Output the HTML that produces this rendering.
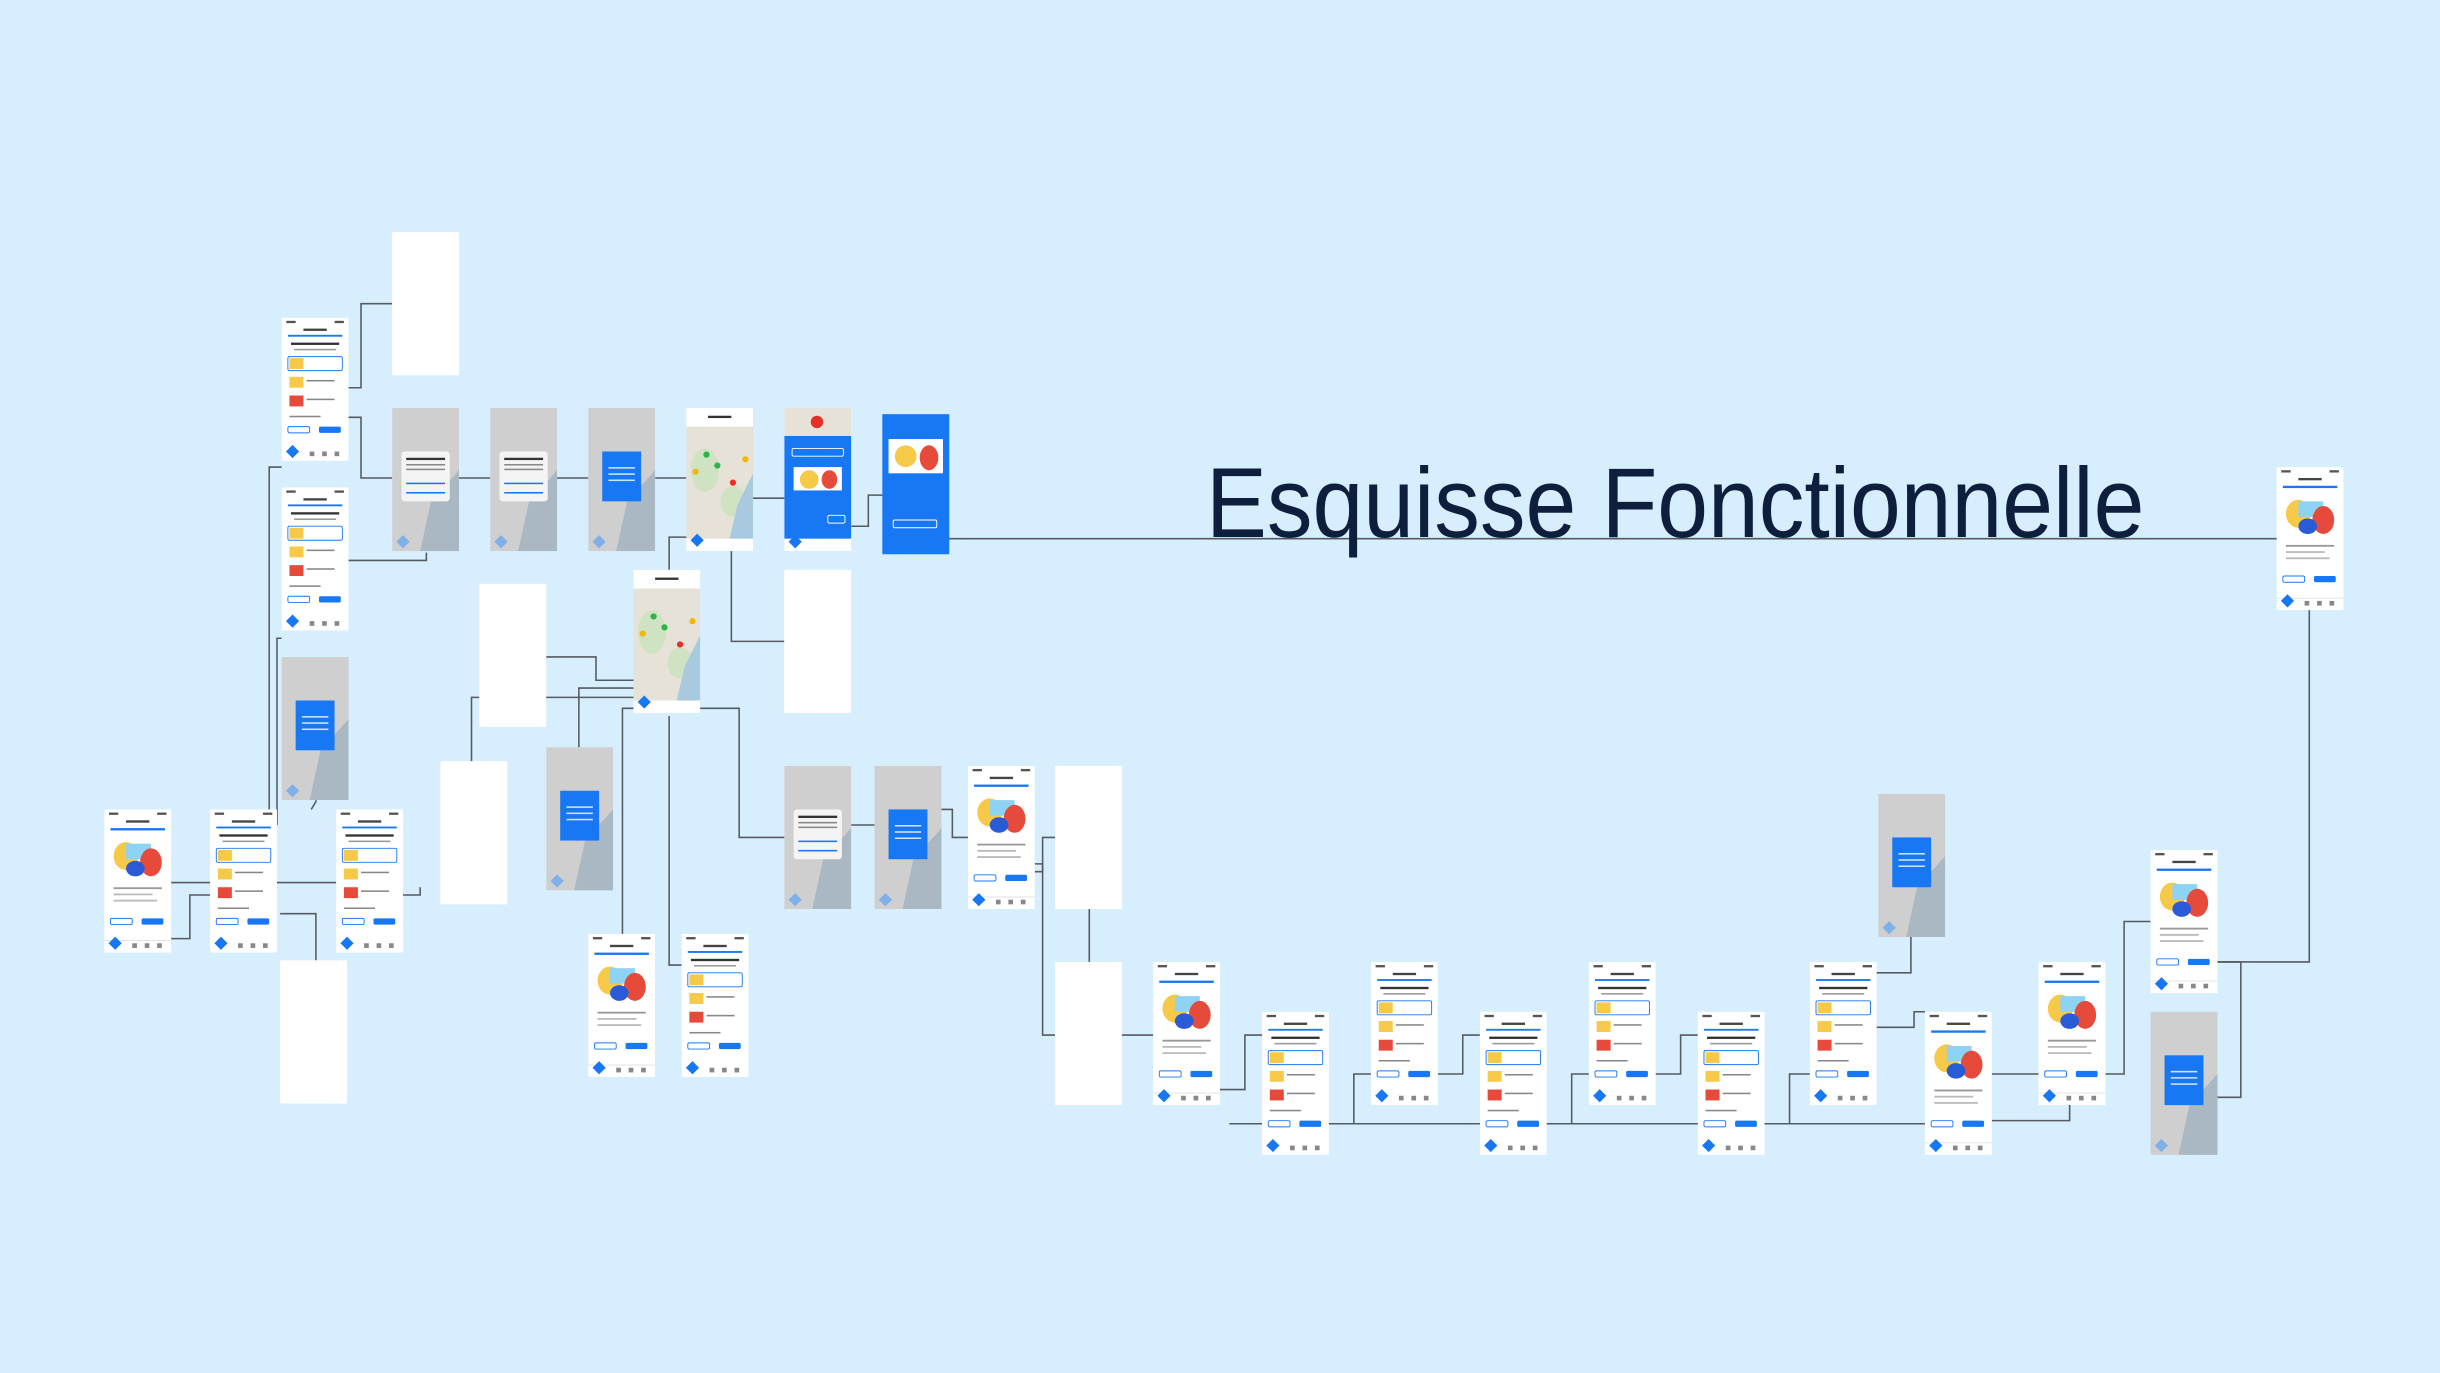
<!DOCTYPE html>
<html><head><meta charset="utf-8"><style>
html,body{margin:0;padding:0;background:#d6eefe;}
svg{display:block}
</style></head><body>
<svg width="2440" height="1373" viewBox="0 0 1568 882" xmlns="http://www.w3.org/2000/svg">
<defs>
<symbol id="w" viewBox="0 0 43 92" width="43" height="92">
<rect width="43" height="92" fill="#fff"/>
<rect x="3" y="2" width="6" height="1.5" fill="#555"/><rect x="34" y="2" width="6" height="1.5" fill="#555"/>
<rect x="14" y="7" width="15" height="1.5" fill="#444"/>
<rect x="4" y="12" width="35" height="1.5" fill="#1877f2"/>
<ellipse cx="14" cy="30" rx="8" ry="9" fill="#f7c948"/>
<rect x="14" y="22" width="16" height="10" fill="#8fd3f4"/>
<ellipse cx="30" cy="34" rx="7" ry="9" fill="#e64a3b"/>
<ellipse cx="20" cy="38" rx="6" ry="5" fill="#2a5bd7"/>
<rect x="6" y="50" width="31" height="1.2" fill="#999"/><rect x="6" y="54" width="25" height="1.2" fill="#bbb"/><rect x="6" y="58" width="28" height="1.2" fill="#bbb"/>
<rect x="4" y="70" width="14" height="4" rx="1" fill="#fff" stroke="#1877f2" stroke-width=".6"/>
<rect x="24" y="70" width="14" height="4" rx="1" fill="#1877f2"/>
<rect x="0" y="84" width="43" height="0.5" fill="#ddd"/>
<rect x="4" y="83" width="6" height="6" fill="#1877f2" transform="rotate(45 7 86)"/>
<rect x="18" y="86" width="3" height="3" fill="#888"/><rect x="26" y="86" width="3" height="3" fill="#888"/><rect x="34" y="86" width="3" height="3" fill="#888"/>
</symbol>
<symbol id="w2" viewBox="0 0 43 92" width="43" height="92">
<rect width="43" height="92" fill="#fff"/>
<rect x="3" y="2" width="6" height="1.5" fill="#555"/><rect x="34" y="2" width="6" height="1.5" fill="#555"/>
<rect x="14" y="7" width="15" height="1.5" fill="#444"/>
<rect x="4" y="11" width="35" height="1.2" fill="#1877f2"/>
<rect x="6" y="16" width="31" height="1.5" fill="#333"/><rect x="8" y="20" width="27" height="1" fill="#999"/>
<rect x="4" y="25" width="35" height="9" rx="1" fill="#fff" stroke="#1877f2" stroke-width=".6"/>
<rect x="5" y="26" width="9" height="7" fill="#f7c948"/>
<rect x="5" y="38" width="9" height="7" fill="#f7c948"/><rect x="16" y="40" width="18" height="1" fill="#888"/>
<rect x="5" y="50" width="9" height="7" fill="#e64a3b"/><rect x="16" y="52" width="18" height="1" fill="#888"/>
<rect x="5" y="63" width="20" height="1" fill="#888"/>
<rect x="4" y="70" width="14" height="4" rx="1" fill="#fff" stroke="#1877f2" stroke-width=".6"/>
<rect x="24" y="70" width="14" height="4" rx="1" fill="#1877f2"/>
<rect x="4" y="83" width="6" height="6" fill="#1877f2" transform="rotate(45 7 86)"/>
<rect x="18" y="86" width="3" height="3" fill="#888"/><rect x="26" y="86" width="3" height="3" fill="#888"/><rect x="34" y="86" width="3" height="3" fill="#888"/>
</symbol>
<symbol id="g" viewBox="0 0 43 92" width="43" height="92">
<rect width="43" height="92" fill="#cfcfcf"/>
<path d="M43 40 L25 60 L18 92 L43 92Z" fill="#a9b8c2"/>
<rect x="9" y="28" width="25" height="32" fill="#1877f2"/>
<rect x="13" y="38" width="17" height="1" fill="#cfe3ff"/><rect x="13" y="42" width="17" height="1" fill="#cfe3ff"/><rect x="13" y="46" width="17" height="1" fill="#cfe3ff"/>
<rect x="4" y="83" width="6" height="6" fill="#7fb0ea" transform="rotate(45 7 86)"/>
</symbol>
<symbol id="d" viewBox="0 0 43 92" width="43" height="92">
<rect width="43" height="92" fill="#cfcfcf"/>
<path d="M43 40 L25 60 L18 92 L43 92Z" fill="#a9b8c2"/>
<rect x="6" y="28" width="31" height="32" rx="2" fill="#f4f4f4"/>
<rect x="9" y="32" width="25" height="1.5" fill="#333"/><rect x="9" y="36" width="25" height="1" fill="#888"/><rect x="9" y="39" width="25" height="1" fill="#888"/>
<rect x="9" y="48" width="25" height="1" fill="#1877f2"/><rect x="9" y="54" width="25" height="1" fill="#1877f2"/>
<rect x="4" y="83" width="6" height="6" fill="#7fb0ea" transform="rotate(45 7 86)"/>
</symbol>
<symbol id="m" viewBox="0 0 43 92" width="43" height="92">
<rect width="43" height="92" fill="#e6e2d8"/>
<rect width="43" height="12" fill="#fff"/>
<rect x="14" y="5" width="15" height="1.5" fill="#333"/>
<ellipse cx="12" cy="40" rx="9" ry="14" fill="#cfe3c2"/><ellipse cx="30" cy="60" rx="8" ry="10" fill="#cfe3c2"/>
<path d="M43 42 L33 62 L26 92 L43 92Z" fill="#a9c9de"/>
<circle cx="13" cy="30" r="2" fill="#2db34a"/><circle cx="20" cy="37" r="2" fill="#2db34a"/><circle cx="6" cy="41" r="2" fill="#f2b705"/><circle cx="30" cy="48" r="2" fill="#e63027"/><circle cx="38" cy="33" r="2" fill="#f2b705"/>
<rect x="0" y="84" width="43" height="8" fill="#fff"/>
<rect x="4" y="82" width="6" height="6" fill="#1877f2" transform="rotate(45 7 85)"/>
</symbol>
<symbol id="bl" viewBox="0 0 43 92" width="43" height="92">
<rect width="43" height="92" fill="#fff"/>
<rect y="0" width="43" height="18" fill="#e6e2d8"/>
<circle cx="21" cy="9" r="4" fill="#e63027"/>
<rect y="18" width="43" height="66" fill="#1877f2"/>
<rect x="5" y="26" width="33" height="5" rx="1" fill="none" stroke="#fff" stroke-width=".6"/>
<rect x="6" y="38" width="31" height="15" fill="#fff"/>
<ellipse cx="16" cy="46" rx="6" ry="6" fill="#f7c948"/><ellipse cx="29" cy="46" rx="5" ry="6" fill="#e64a3b"/>
<rect x="28" y="69" width="11" height="5" rx="1" fill="none" stroke="#fff" stroke-width=".6"/>
<rect x="4" y="83" width="6" height="6" fill="#1877f2" transform="rotate(45 7 86)"/>
</symbol>
</defs>

<g fill="none" stroke="#555a60" stroke-width="1">
<polyline points="224,249 232,249 232,195 252,195"/>
<polyline points="224,268 232,268 232,307 252,307"/>
<line x1="295" y1="307" x2="315" y2="307"/>
<line x1="358" y1="307" x2="378" y2="307"/>
<line x1="421" y1="307" x2="441" y2="307"/>
<polyline points="467,305 480,305 480,320 504,320"/>
<polyline points="547,338 558,338 558,318 567,318"/>
<polyline points="606,346 1463,346"/>
<polyline points="1463,346 1484,346 1484,618 1425,618"/>
<polyline points="274,355 274,360 224,360"/>
<polyline points="173,520 173,300 181,300"/>
<polyline points="178,530 178,410 181,410"/>
<polyline points="110,567 128,567 128,567 135,567"/>
<polyline points="178,567 216,567"/>
<polyline points="200,520 203,515 203,514"/>
<polyline points="110,603 122,603 122,575 135,575"/>
<polyline points="180,587 203,587 203,617"/>
<polyline points="259,575 270,575 270,570"/>
<polyline points="453,345 430,345 430,366"/>
<polyline points="470,346 470,412 504,412"/>
<polyline points="415,437 383,437 383,422 351,422"/>
<polyline points="410,442 372,442 372,480"/>
<polyline points="410,448 303,448 303,489"/>
<polyline points="415,455 400,455 400,600"/>
<polyline points="430,460 430,620 438,620"/>
<polyline points="435,455 475,455 475,538 504,538"/>
<polyline points="547,530 562,530"/>
<polyline points="605,520 612,520 612,538 622,538"/>
<polyline points="665,555 670,555 670,665 741,665"/>
<polyline points="665,560 670,560 670,538 678,538"/>
<line x1="700" y1="584" x2="700" y2="618"/>
<polyline points="784,700 800,700 800,665 811,665"/>
<polyline points="854,722 870,722 870,690 881,690"/>
<polyline points="924,690 940,690 940,665 951,665"/>
<polyline points="994,722 1010,722 1010,690 1021,690"/>
<polyline points="1064,690 1080,690 1080,665 1091,665"/>
<polyline points="1134,722 1150,722 1150,690 1163,690"/>
<polyline points="1206,660 1230,660 1230,650 1237,650"/>
<polyline points="1206,625 1228,625 1228,600"/>
<polyline points="1280,720 1330,720 1330,705"/>
<polyline points="1310,690 1280,690"/>
<polyline points="1353,690 1365,690 1365,592 1382,592"/>
<polyline points="1425,618 1440,618 1440,705 1425,705"/>
<polyline points="790,722 1237,722"/>
</g>

<text x="775" y="345" font-family="Liberation Sans, sans-serif" font-size="64" fill="#0e1f3d" textLength="603" lengthAdjust="spacingAndGlyphs">Esquisse Fonctionnelle</text>

<g>
<use href="#w2" x="181" y="204"/>
<use href="#w2" x="181" y="313"/>
<use href="#g" x="181" y="422"/>
<use href="#w" x="67" y="520"/>
<use href="#w2" x="135" y="520"/>
<use href="#w2" x="216" y="520"/>
<rect x="252" y="149" width="43" height="92" fill="#fff"/>
<use href="#d" x="252" y="262"/>
<use href="#d" x="315" y="262"/>
<use href="#g" x="378" y="262"/>
<use href="#m" x="441" y="262"/>
<use href="#bl" x="504" y="262"/>
<rect x="567" y="266" width="43" height="90" fill="#1877f2"/>
<rect x="571" y="282" width="35" height="22" fill="#fff"/>
<ellipse cx="582" cy="293" rx="7" ry="7" fill="#f7c948"/><ellipse cx="597" cy="294" rx="6" ry="8" fill="#e64a3b"/>
<rect x="574" y="334" width="28" height="5" rx="1" fill="none" stroke="#fff" stroke-width=".6"/>
<rect x="308" y="375" width="43" height="92" fill="#fff"/>
<rect x="504" y="366" width="43" height="92" fill="#fff"/>
<rect x="283" y="489" width="43" height="92" fill="#fff"/>
<rect x="180" y="617" width="43" height="92" fill="#fff"/>
<use href="#m" x="407" y="366"/>
<use href="#g" x="351" y="480"/>
<use href="#w" x="378" y="600"/>
<use href="#w2" x="438" y="600"/>
<use href="#d" x="504" y="492"/>
<use href="#g" x="562" y="492"/>
<use href="#w" x="622" y="492"/>
<rect x="678" y="492" width="43" height="92" fill="#fff"/>
<rect x="678" y="618" width="43" height="92" fill="#fff"/>
<use href="#w" x="741" y="618"/>
<use href="#w2" x="811" y="650"/>
<use href="#w2" x="881" y="618"/>
<use href="#w2" x="951" y="650"/>
<use href="#w2" x="1021" y="618"/>
<use href="#w2" x="1091" y="650"/>
<use href="#w2" x="1163" y="618"/>
<use href="#g" x="1207" y="510"/>
<use href="#w" x="1237" y="650"/>
<use href="#w" x="1310" y="618"/>
<use href="#w" x="1382" y="546"/>
<use href="#g" x="1382" y="650"/>
<use href="#w" x="1463" y="300"/>
</g>
</svg>
</body></html>
